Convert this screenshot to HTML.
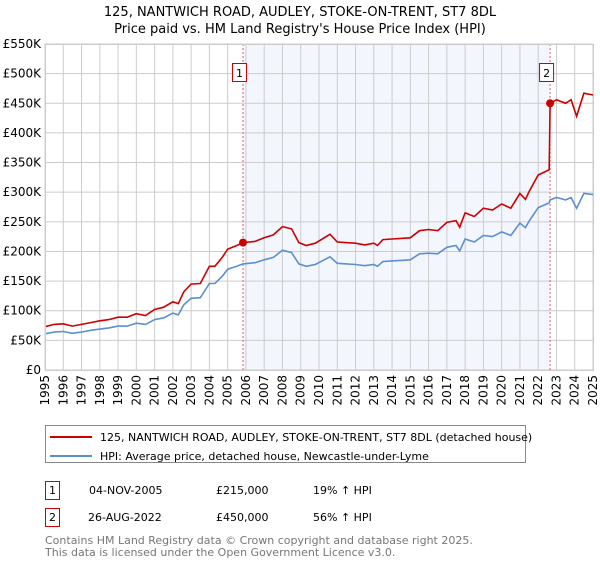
<!DOCTYPE html>
<html><head><meta charset="utf-8"><style>
body{margin:0;width:600px;height:560px;background:#fff;font-family:"DejaVu Sans","Liberation Sans",sans-serif;overflow:hidden}
svg text{font-family:"DejaVu Sans","Liberation Sans",sans-serif}
</style></head><body>
<svg id="chart" width="600" height="560" xmlns="http://www.w3.org/2000/svg">
<text x="300" y="16" text-anchor="middle" font-size="13">125, NANTWICH ROAD, AUDLEY, STOKE-ON-TRENT, ST7 8DL</text>
<text x="300" y="33" text-anchor="middle" font-size="13">Price paid vs. HM Land Registry's House Price Index (HPI)</text>
<g id="plot"></g>
<g>
<rect x="45.5" y="425.5" width="480" height="37" fill="#fff" stroke="#888"/>
<line x1="50" y1="437" x2="92" y2="437" stroke="#cc0000" stroke-width="2"/>
<text x="100" y="441" font-size="11">125, NANTWICH ROAD, AUDLEY, STOKE-ON-TRENT, ST7 8DL (detached house)</text>
<line x1="50" y1="456" x2="92" y2="456" stroke="#5b8fd0" stroke-width="2"/>
<text x="100" y="460" font-size="11">HPI: Average price, detached house, Newcastle-under-Lyme</text>
</g>
<g font-size="11">
<rect x="45.5" y="481.5" width="14" height="18" fill="#fff" stroke="#cc0000"/>
<text x="52.5" y="494" text-anchor="middle">1</text>
<text x="89" y="494">04-NOV-2005</text><text x="216" y="494">£215,000</text><text x="313" y="494">19% ↑ HPI</text>
</g>
<g font-size="11">
<rect x="45.5" y="508.5" width="14" height="18" fill="#fff" stroke="#cc0000"/>
<text x="52.5" y="521" text-anchor="middle">2</text>
<text x="88" y="521">26-AUG-2022</text><text x="216" y="521">£450,000</text><text x="313" y="521">56% ↑ HPI</text>
</g>
<text x="45" y="544" font-size="11" fill="#777">Contains HM Land Registry data © Crown copyright and database right 2025.</text>
<text x="45" y="556" font-size="11" fill="#777">This data is licensed under the Open Government Licence v3.0.</text>
</svg>
<script>
const years=[1995,1995.5,1996,1996.5,1997,1997.5,1998,1998.5,1999,1999.5,2000,2000.5,2001,2001.5,2002,2002.3,2002.6,2003,2003.5,2004,2004.3,2004.7,2005,2005.5,2005.84,2006.5,2007,2007.5,2008,2008.5,2008.9,2009.3,2009.8,2010.6,2011,2012,2012.5,2013,2013.2,2013.5,2014,2015,2015.5,2016,2016.5,2017,2017.5,2017.7,2018,2018.5,2019,2019.5,2020,2020.5,2021,2021.3,2021.5,2022,2022.6,2022.65,2023,2023.5,2023.8,2024.1,2024.5,2025];
const hpiValues=[61,64,65,62,64,67,69,71,74,74,79,77,85,88,96,93,110,121,122,146,146,158,170,175,179,181,186,190,202,198,179,175,178,191,180,178,176,178,175,183,184,186,196,197,196,207,210,201,221,216,227,225,233,227,248,240,251,274,282,287,291,287,291,273,298,296];
const priceValues=[73,77,78,74,77,80,83,85,89,89,95,92,102,106,115,112,132,145,146,175,175,190,204,210,215,217,223,228,242,238,215,210,214,229,216,214,211,214,210,220,221,223,235,237,235,249,252,241,265,259,273,270,280,273,298,288,301,329,338,450,456,450,456,428,467,464];
const sales=[[2005.84,215,"1"],[2022.65,450,"2"]];
const yTicks=[0,50,100,150,200,250,300,350,400,450,500,550];
const yTickLabels=["£0","£50K","£100K","£150K","£200K","£250K","£300K","£350K","£400K","£450K","£500K","£550K"];
const xTicks=[1995,1996,1997,1998,1999,2000,2001,2002,2003,2004,2005,2006,2007,2008,2009,2010,2011,2012,2013,2014,2015,2016,2017,2018,2019,2020,2021,2022,2023,2024,2025];

const L=45,R=593,T=44,B=370;
const xs=v=>L+(v-1995)/30*(R-L);
const ys=v=>B-v/550*(B-T);
const NS="http://www.w3.org/2000/svg";
const g=document.getElementById('plot');
function mk(tag,attrs,parent){const e=document.createElementNS(NS,tag);for(const k in attrs)e.setAttribute(k,attrs[k]);(parent||g).appendChild(e);return e;}
let e=mk('rect',{x:L,y:T,width:R-L,height:B-T,fill:'#fff'});


e=mk('rect',{x:xs(sales[0][0]),y:T,width:xs(sales[1][0])-xs(sales[0][0]),height:B-T,fill:'#eef2fc',opacity:0.7});


yTicks.forEach((t,i)=>{
  let l=mk('line',{x1:L,x2:R,y1:ys(t),y2:ys(t),stroke:'#ccc'});
  
  
  let tx=mk('text',{x:L-4,y:ys(t)+4,'text-anchor':'end','font-size':12});
  tx.textContent=yTickLabels[i];
  
  
});
xTicks.forEach(t=>{
  let l=mk('line',{x1:xs(t),x2:xs(t),y1:T,y2:B,stroke:'#ccc'});
  
  
  let tx=mk('text',{x:0,y:0,'text-anchor':'end','font-size':12,transform:`translate(${xs(t)+4},${B+5}) rotate(-90)`});
  tx.textContent=t;
  
  
});
sales.forEach(s=>{
  let l=mk('line',{x1:xs(s[0]),x2:xs(s[0]),y1:T,y2:B,stroke:'#e06060','stroke-dasharray':'2,2'});
  
  
});
function path(vals,col,name){
  const d=vals.map((v,i)=>(i?'L':'M')+xs(years[i]).toFixed(1)+','+ys(v).toFixed(1)).join('');
  const p=mk('path',{d:d,fill:'none',stroke:col,'stroke-width':1.6});
  
  
}
path(hpiValues,'#5b8fd0','hpi-line');
path(priceValues,'#cc0000','price-line');
sales.forEach(s=>{
  let c=mk('circle',{cx:xs(s[0]),cy:ys(s[1]),r:4,fill:'#cc0000'});
  
  
  let bx=xs(s[0])-10;
  let r=mk('rect',{x:bx-0.5,y:63.5,width:14,height:18,fill:'#fff',stroke:'#cc0000'});
  
  
  let tx=mk('text',{x:bx+6.5,y:77,'text-anchor':'middle','font-size':11});
  tx.textContent=s[2];
  
  
});
let f=mk('rect',{x:L+0.5,y:T+0.5,width:R-L,height:B-T,fill:'none',stroke:'#ccc'});


</script>
</body></html>
